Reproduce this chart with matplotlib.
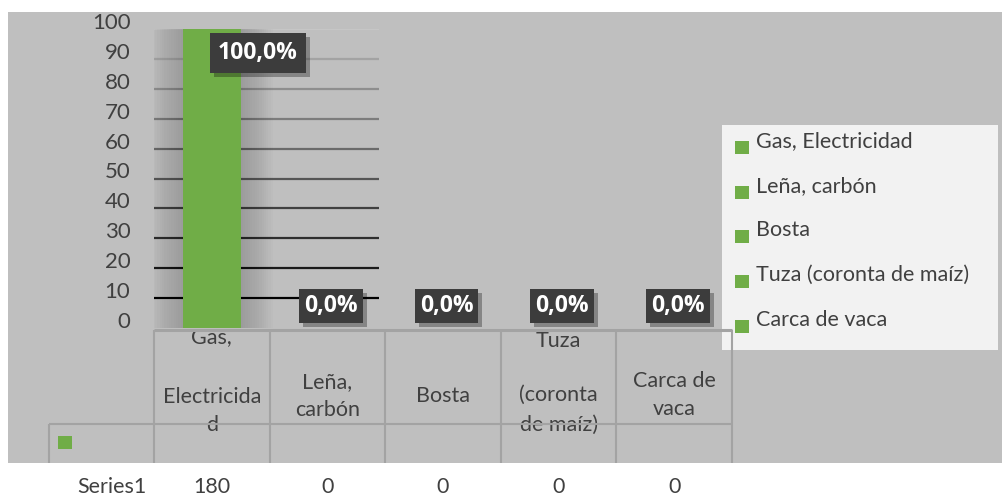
import matplotlib.pyplot as plt
import matplotlib.patheffects as pe
from matplotlib.patches import Rectangle
from matplotlib.transforms import ScaledTranslation, blended_transform_factory

plt.rcParams['font.family'] = ['Lato', 'DejaVu Sans']

categories = ["Gas, Electricidad", "Leña, carbón", "Bosta",
              "Tuza (coronta de maíz)", "Carca de vaca"]
# how the data table wrapped each category
table_lines = [["Gas,", "Electricida", "d"], ["Leña,", "carbón"], ["Bosta"],
               ["Tuza", "(coronta", "de maíz)"], ["Carca de", "vaca"]]
counts = [180, 0, 0, 0, 0]
series_name = "Series1"
yticks = list(range(0, 101, 10))

pct = [c / sum(counts) * 100 for c in counts]

green = '#70ad47'
txt = '#404040'
grid_cols = ['#000000', '#1a1a1a', '#2e2e2e', '#404040', '#555555',
             '#6a6a6a', '#7c7c7c', '#8e8e8e', '#a3a3a3', '#c6c6c6']
# pixel rows of the wrapped table lines
line_y = [[337, 397, 425], [382, 410], [396], [341, 395, 425], [381, 409]]

W, H = 1002, 496
fig = plt.figure(figsize=(W / 100, H / 100), dpi=100, facecolor='white')

# background layer in pixel coords
bg = fig.add_axes([0, 0, 1, 1], zorder=0)
bg.set_xlim(0, W)
bg.set_ylim(H, 0)
bg.axis('off')
bg.add_patch(Rectangle((8, 12), W - 8, 451, color='#bfbfbf', lw=0))

ax = fig.add_axes([154 / W, (H - 328) / H, 578 / W, 299 / H], zorder=1)
ax.set_facecolor('none')
ax.set_xlim(-0.5, len(categories) - 0.5)
ax.set_ylim(0, 100)
for s in ax.spines.values():
    s.set_visible(False)
ax.set_xticks([])
ax.set_yticks(yticks)
ax.set_yticklabels([str(t) for t in yticks], fontsize=16, color=txt)
ax.tick_params(axis='y', length=0, pad=17)
for lab in ax.get_yticklabels():
    lab.set_transform(lab.get_transform() + ScaledTranslation(0, 0.08, fig.dpi_scale_trans))

for y, c in zip(yticks[1:], grid_cols):
    ax.hlines(y, -0.5, 1.45, color=c, lw=1.6, zorder=1)

x = list(range(len(categories)))
# soft shadow behind the bar
for k in range(1, 15):
    ax.bar(x, pct, width=0.5 + k * 0.04, color='black', alpha=0.013, lw=0, zorder=2)
ax.bar(x, pct, width=0.5, color=green, lw=0, zorder=3)

for i, v in enumerate(pct):
    if v > 0:
        xy, pad = (i + 0.4, v - 8), 0.35
    else:
        xy, pad = (i + 0.03, v + 7.5), 0.22
    t = ax.text(xy[0], xy[1], f"{v:.1f}%".replace('.', ','), ha='center', va='center',
                family=['Open Sans', 'DejaVu Sans'], fontsize=16.5, fontweight='bold',
                color='white', zorder=5,
                bbox=dict(boxstyle=f'square,pad={pad}', facecolor='#3c3c3c', lw=0))
    t.get_bbox_patch().set_path_effects([
        pe.SimplePatchShadow(offset=(3, -3), shadow_rgbFace='black', alpha=0.3),
        pe.Normal()])

# data table
top = fig.add_axes([0, 0, 1, 1], zorder=2)
top.set_xlim(0, W)
top.set_ylim(H, 0)
top.axis('off')
tc = '#a3a3a3'
col_edges = [154 + 115.6 * k for k in range(len(categories) + 1)]
top.hlines(329.5, 154, col_edges[-1], color=tc, lw=2.2)
top.hlines(424, 49, col_edges[-1], color=tc, lw=1.5)
top.vlines(col_edges, 330, 463, color=tc, lw=1.5)
top.vlines(49, 424, 463, color=tc, lw=1.5)
top.add_patch(Rectangle((58, 436), 14, 13, color=green, lw=0))

mix = blended_transform_factory(ax.transData, top.transData)
for i, (lines, ys) in enumerate(zip(table_lines, line_y)):
    for s, yy in zip(lines, ys):
        ax.text(i, yy, s, transform=mix, ha='center', va='center',
                fontsize=15.5, color=txt, clip_on=False, zorder=6)
    ax.text(i, 487, str(counts[i]), transform=mix, ha='center', va='center',
            fontsize=15.5, color=txt, clip_on=False)
top.text(112, 487, series_name, ha='center', va='center', fontsize=15.5, color=txt)

# legend
top.add_patch(Rectangle((722, 125), 276, 225, color='#f2f2f2', lw=0))
for k, name in enumerate(categories):
    yy = 141 + 44.7 * k
    top.add_patch(Rectangle((735, yy), 14, 13, color=green, lw=0))
    top.text(756, yy, name, ha='left', va='center', fontsize=15.5, color=txt)

fig.savefig('out.png', dpi=100, facecolor='white')
